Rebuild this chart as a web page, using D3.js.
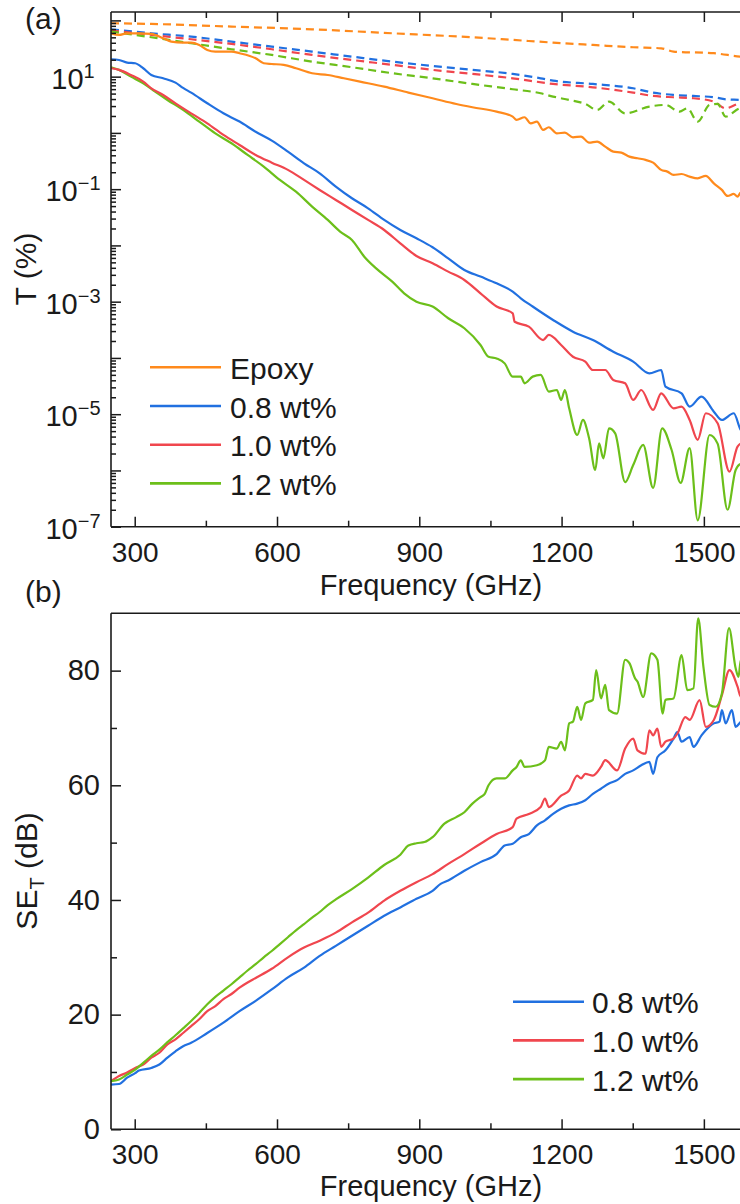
<!DOCTYPE html>
<html>
<head>
<meta charset="utf-8">
<style>
  body { margin: 0; background: #fff; }
  svg text { font-family: "Liberation Sans", Arial, sans-serif; fill: #1a1a1a; }
</style>
</head>
<body>
<div id="chart"></div>
<script src="https://cdn.jsdelivr.net/npm/d3@7"></script>
<script>
// ---- data: [frequency GHz, value] ----
// panel (a): transmission T (%) solid lines
var tEpoxy = [[250,59],[267,55.2],[284,59],[309,59],[335,57.4],[360,48.1],[377,42],[402,40.3],[419,40.3],[436,36.6],[453,29.8],[470,27.9],[504,27.9],[521,26.1],[555,21.2],[572,17.3],[589,16.8],[614,16.2],[640,14.1],[674,11.5],[707,10.7],[741,9.35],[775,8.16],[826,6.65],[877,5.2],[928,4.13],[978,3.27],[1012,2.86],[1063,2.39],[1097,1.95],[1105,1.7],[1122,1.9],[1135,1.48],[1148,1.59],[1161,1.13],[1173,1.26],[1190,0.98],[1207,1.01],[1224,0.836],[1241,0.859],[1258,0.671],[1275,0.7],[1292,0.57],[1309,0.465],[1326,0.446],[1343,0.379],[1360,0.354],[1377,0.331],[1393,0.296],[1410,0.22],[1423,0.205],[1436,0.179],[1453,0.186],[1470,0.167],[1487,0.156],[1504,0.172],[1521,0.127],[1538,0.097],[1550,0.0757],[1563,0.0822],[1571,0.0737],[1578,0.0868],[1600,0.08]];
var t08 = [[250,20.4],[267,19.8],[284,17.8],[301,17.3],[318,14.1],[335,10.7],[360,9.35],[386,7.83],[402,6.3],[419,5.2],[453,3.36],[487,2.23],[521,1.59],[555,1.05],[589,0.73],[623,0.465],[657,0.288],[690,0.191],[724,0.111],[758,0.0689],[792,0.0457],[826,0.0284],[860,0.0188],[894,0.0134],[928,0.00927],[961,0.0059],[995,0.00366],[1029,0.00279],[1063,0.00212],[1097,0.00151],[1114,0.00115],[1139,8.2e-4],[1182,4.73e-4],[1224,2.93e-4],[1266,2.08e-4],[1309,1.29e-4],[1351,8.6e-5],[1385,5.33e-5],[1410,6.1e-5],[1419,3.09e-5],[1453,2.35e-5],[1470,1.36e-5],[1495,2.05e-5],[1521,1.11e-5],[1538,7.9e-6],[1563,1.04e-5],[1578,5.2e-6],[1600,4e-6]];
var t10 = [[250,14.1],[267,13.2],[292,10.7],[318,8.16],[335,6.21],[360,4.73],[386,3.36],[419,2.23],[453,1.48],[487,0.92],[521,0.61],[555,0.406],[589,0.296],[623,0.22],[657,0.146],[690,0.0968],[724,0.0643],[758,0.0427],[792,0.0284],[826,0.0188],[860,0.0109],[894,0.0065],[928,0.00481],[961,0.00342],[995,0.00243],[1029,0.00141],[1063,8.2e-4],[1097,6.2e-4],[1101,4.4e-4],[1131,3.6e-4],[1161,2.08e-4],[1173,2.56e-4],[1199,1.7e-4],[1224,1.05e-4],[1250,8.6e-5],[1266,6.1e-5],[1292,6.1e-5],[1309,4.06e-5],[1334,3.54e-5],[1351,1.79e-5],[1368,2.69e-5],[1393,1.19e-5],[1410,2.35e-5],[1436,1.27e-5],[1453,1.36e-5],[1470,7.9e-6],[1487,3.5e-6],[1504,1.04e-5],[1529,6.9e-6],[1554,9.5e-7],[1571,2.65e-6],[1578,3e-6],[1600,2.5e-6]];
var t12 = [[250,14.7],[267,13.2],[292,10],[318,7.62],[343,5.42],[369,3.85],[402,2.56],[436,1.59],[470,0.98],[504,0.654],[538,0.406],[572,0.252],[606,0.146],[640,0.0904],[674,0.049],[707,0.0284],[733,0.0176],[758,0.0125],[784,0.0063],[809,0.0039],[843,0.00227],[868,0.00141],[894,1e-3],[928,8.2e-4],[961,5.07e-4],[995,3.37e-4],[1029,1.7e-4],[1046,1.05e-4],[1063,9.8e-5],[1080,8e-5],[1097,4.65e-5],[1114,4.65e-5],[1122,3.54e-5],[1139,4.65e-5],[1156,4.98e-5],[1173,2.52e-5],[1190,2.69e-5],[1199,1.79e-5],[1207,2.69e-5],[1216,1.27e-5],[1233,4.27e-6],[1245,7.9e-6],[1258,3.72e-6],[1271,1.02e-6],[1279,3.03e-6],[1288,1.64e-6],[1300,5.6e-6],[1313,4.57e-6],[1334,6.2e-7],[1351,1.25e-6],[1372,2.84e-6],[1393,4.9e-7],[1412,5.6e-6],[1432,2.31e-6],[1451,6e-7],[1470,2.5e-6],[1487,1.3e-7],[1512,4.27e-6],[1529,3e-6],[1550,2e-7],[1567,1.02e-6],[1578,1.3e-6],[1600,1.2e-6]];
// panel (a): dashed lines
var dEpoxy = [[250,88.9],[335,86.5],[504,77.6],[674,69.5],[843,59],[1012,50.1],[1097,45],[1182,40.3],[1266,36.6],[1351,33.3],[1410,31.9],[1436,27.9],[1521,26.1],[1578,22.7],[1600,22]];
var d08 = [[250,69.5],[335,59],[419,51.5],[504,42],[589,34.2],[674,27.9],[758,22.7],[843,18.5],[928,15.5],[1012,13.2],[1097,11.2],[1156,9.35],[1182,8.5],[1266,7.42],[1351,6.21],[1393,5.2],[1436,4.73],[1478,4.54],[1521,4.3],[1546,3.96],[1578,3.85],[1600,3.7]];
var d10 = [[250,65.9],[335,55.2],[419,46.2],[504,38.2],[589,30.7],[674,24.3],[758,19.8],[843,16.2],[928,13.2],[1012,11.2],[1097,9.35],[1182,7.42],[1266,6.47],[1351,5.2],[1393,4.54],[1436,4.3],[1478,4.13],[1521,3.6],[1546,2.74],[1578,3.36],[1600,3.2]];
var d12 = [[250,63.2],[335,50.1],[419,39.2],[504,30.7],[589,24.3],[674,18.5],[758,14.7],[843,11.5],[928,9.35],[1012,7.42],[1097,5.97],[1156,5.06],[1182,4.42],[1216,3.85],[1250,3.27],[1275,2.56],[1300,3.6],[1334,2.23],[1385,2.94],[1419,3.14],[1449,2.39],[1465,2.74],[1487,1.59],[1512,3.14],[1529,3.27],[1546,1.95],[1578,2.74],[1600,2.6]];
// panel (b): SE_T (dB)
var se08 = [[250,7.8],[267,7.9],[284,9],[301,9.8],[309,10.25],[335,10.7],[352,11.3],[369,12.5],[386,13.6],[402,14.5],[419,15.1],[453,16.8],[487,18.6],[521,20.6],[555,22.4],[589,24.4],[623,26.5],[657,28.2],[690,30.25],[724,32],[758,33.75],[792,35.5],[826,37.25],[860,38.7],[894,40.2],[928,41.6],[945,42.8],[961,43.4],[995,45.1],[1029,46.6],[1063,48],[1080,49.5],[1097,49.8],[1114,50.95],[1131,51.5],[1148,53],[1165,53.9],[1182,55],[1199,55.9],[1216,56.5],[1233,56.8],[1250,57.4],[1266,58.5],[1283,59.4],[1300,60.3],[1317,60.9],[1334,62],[1351,62.6],[1368,63.5],[1385,64.1],[1393,62],[1402,64.9],[1419,66.1],[1436,68.15],[1444,69.3],[1453,67.6],[1470,68.4],[1478,66.7],[1495,68.7],[1504,69.6],[1521,70.8],[1533,71.1],[1538,73.1],[1546,70.8],[1559,73.1],[1567,70.2],[1578,71.1],[1600,72]];
var se10 = [[250,8.4],[267,9.3],[284,9.9],[301,10.7],[318,11.3],[335,12.5],[352,13.35],[369,14.8],[386,15.7],[402,16.8],[419,18],[436,19.2],[453,20.6],[470,21.5],[487,22.7],[504,23.6],[521,24.7],[538,25.6],[555,26.4],[589,28],[623,30],[657,31.7],[690,32.9],[724,34.3],[758,36.1],[792,37.8],[826,39.9],[860,41.6],[894,43.1],[928,44.5],[961,46.3],[995,48],[1029,49.8],[1063,51.5],[1097,52.7],[1105,54.2],[1131,55],[1156,56.2],[1165,57.7],[1173,56.2],[1199,58.2],[1216,59.1],[1233,61.7],[1241,61.2],[1250,62],[1266,61.7],[1283,63.2],[1292,64.4],[1317,62.6],[1334,66.4],[1351,68.15],[1360,66.1],[1377,65.5],[1385,69.6],[1393,68.7],[1402,69.9],[1410,66.7],[1419,67.6],[1436,68.15],[1444,69],[1461,71.9],[1470,71.4],[1491,74.85],[1504,70.2],[1521,71.4],[1538,75.7],[1554,80.1],[1571,77.2],[1578,75.4],[1600,76]];
var se12 = [[250,8.4],[267,8.7],[284,9.55],[301,10.4],[318,11.6],[335,12.8],[352,13.9],[369,15.2],[386,16.4],[402,17.6],[419,18.9],[436,20.3],[453,21.8],[470,23.1],[487,24.2],[504,25.3],[521,26.5],[538,27.7],[555,28.8],[572,30],[589,31.1],[606,32.3],[623,33.5],[640,34.7],[657,35.8],[674,36.9],[690,37.9],[707,39.1],[724,40.1],[758,41.9],[792,43.9],[826,46.1],[860,47.9],[877,49.5],[894,49.9],[911,50.1],[928,50.95],[953,53.3],[978,54.45],[995,55.3],[1012,56.8],[1029,57.95],[1038,58.5],[1046,60],[1063,61.2],[1080,61.2],[1097,62.6],[1105,63.2],[1114,64.35],[1122,63.2],[1148,63.5],[1165,64.35],[1173,66.7],[1190,66.4],[1199,67.6],[1207,66.1],[1216,70.8],[1224,71.1],[1233,73.7],[1241,71.4],[1250,74.3],[1266,74.9],[1273,80.1],[1283,75.15],[1292,77.5],[1300,73.1],[1317,72.5],[1334,81.9],[1343,81.3],[1355,78.65],[1360,78.1],[1372,75.4],[1389,83],[1402,81.9],[1413,72.5],[1419,74.9],[1436,75.15],[1453,82.7],[1465,76.6],[1478,76.9],[1488,89.1],[1499,80.7],[1512,74],[1525,73.7],[1538,76],[1553,87.4],[1567,80.4],[1573,78.9],[1578,81.9],[1600,80]];

var legendA = ["Epoxy", "0.8 wt%", "1.0 wt%", "1.2 wt%"];
var legendB = ["0.8 wt%", "1.0 wt%", "1.2 wt%"];
var xMajor = [300, 600, 900, 1200, 1500];
var xMinor = [450, 750, 1050, 1350];
var tLabelExp = [1, -1, -3, -5, -7];
var seMajor = [0, 20, 40, 60, 80];
var seMinor = [10, 30, 50, 70];

var ORANGE = "#ff8a1c", BLUE = "#2170e0", RED = "#f0464e", GREEN = "#6cbf1a";
var INK = "#1a1a1a";

var svg = d3.select("#chart").append("svg").attr("width", 740).attr("height", 1204);
svg.append("rect").attr("width", 740).attr("height", 1204).attr("fill", "#fff");

var x = d3.scaleLinear().domain([250, 1600]).range([111, 751.3]);
var yT = d3.scaleLog().domain([1e-7, 141]).range([526.7, 12]);
var ySE = d3.scaleLinear().domain([0, 90]).range([1129.3, 613.3]);

var defs = svg.append("defs");
defs.append("clipPath").attr("id", "clipA").append("rect")
     .attr("x", 111).attr("y", 12).attr("width", 640).attr("height", 514.7);
defs.append("clipPath").attr("id", "clipB").append("rect")
     .attr("x", 111).attr("y", 613.3).attr("width", 640).attr("height", 516);

var lineT = d3.line().x(function (d) { return x(d[0]); }).y(function (d) { return yT(d[1]); }).curve(d3.curveMonotoneX);
var lineSE = d3.line().x(function (d) { return x(d[0]); }).y(function (d) { return ySE(d[1]); }).curve(d3.curveMonotoneX);

// ---- panel (a) curves ----
var gA = svg.append("g").attr("clip-path", "url(#clipA)");
[[dEpoxy, ORANGE], [d08, BLUE], [d10, RED], [d12, GREEN]].forEach(function (s) {
     gA.append("path").attr("d", lineT(s[0])).attr("fill", "none")
          .attr("stroke", s[1]).attr("stroke-width", 2.2).attr("stroke-dasharray", "8,5");
});
[[t12, GREEN], [t10, RED], [t08, BLUE], [tEpoxy, ORANGE]].forEach(function (s) {
     gA.append("path").attr("d", lineT(s[0])).attr("fill", "none")
          .attr("stroke", s[1]).attr("stroke-width", 2.2).attr("stroke-linejoin", "round");
});

// ---- panel (b) curves ----
var gB = svg.append("g").attr("clip-path", "url(#clipB)");
[[se08, BLUE], [se10, RED], [se12, GREEN]].forEach(function (s) {
     gB.append("path").attr("d", lineSE(s[0])).attr("fill", "none")
          .attr("stroke", s[1]).attr("stroke-width", 2.2).attr("stroke-linejoin", "round");
});

// ---- axes ----
function styleAxis(g) {
     g.select(".domain").remove();
     g.selectAll(".tick line").attr("stroke", INK).attr("stroke-width", 1.5);
     g.selectAll(".tick text").attr("font-size", 28).attr("fill", INK)
          .attr("font-family", "Liberation Sans, Arial, sans-serif");
}

function xAxes(yPos, withTop, yTop) {
     svg.append("g").attr("transform", "translate(0," + yPos + ")")
          .call(d3.axisBottom(x).tickValues(xMajor).tickSizeInner(-10).tickSizeOuter(0)
               .tickPadding(15).tickFormat(d3.format("d")))
          .call(styleAxis);
     svg.append("g").attr("transform", "translate(0," + yPos + ")")
          .call(d3.axisBottom(x).tickValues(xMinor).tickSize(-6).tickFormat(""))
          .call(styleAxis);
     if (withTop) {
          svg.append("g").attr("transform", "translate(0," + yTop + ")")
               .call(d3.axisTop(x).tickValues(xMajor).tickSize(-10).tickFormat(""))
               .call(styleAxis);
          svg.append("g").attr("transform", "translate(0," + yTop + ")")
               .call(d3.axisTop(x).tickValues(xMinor).tickSize(-6).tickFormat(""))
               .call(styleAxis);
     }
}
xAxes(526.7, true, 12);
xAxes(1129.3, false, 613.3);

// log axis of panel (a)
var decades = d3.range(-7, 3).map(function (k) { return Math.pow(10, k); });
var minorLog = [];
d3.range(-7, 3).forEach(function (k) {
     for (var m = 2; m <= 9; m++) {
          var v = m * Math.pow(10, k);
          if (v < yT.domain()[1]) minorLog.push(v);
     }
});
svg.append("g").attr("transform", "translate(111,0)")
     .call(d3.axisLeft(yT).tickValues(decades).tickSize(-10).tickFormat(""))
     .call(styleAxis);
svg.append("g").attr("transform", "translate(111,0)")
     .call(d3.axisLeft(yT).tickValues(minorLog).tickSize(-5).tickFormat(""))
     .call(styleAxis);

var expLabels = svg.append("g").selectAll("text").data(tLabelExp).enter().append("text")
     .attr("x", 73).attr("y", function (d) { return yT(Math.pow(10, d)) + 12; })
     .attr("text-anchor", "middle").attr("font-size", 29);
expLabels.append("tspan").text("10");
expLabels.append("tspan").attr("font-size", 20).attr("dy", -11)
     .text(function (d) { return d < 0 ? "\u2212" + (-d) : String(d); });

// linear axis of panel (b)
svg.append("g").attr("transform", "translate(111,0)")
     .call(d3.axisLeft(ySE).tickValues(seMajor).tickSizeInner(-10).tickSizeOuter(0).tickPadding(11).tickFormat(d3.format("d")))
     .call(styleAxis)
     .call(function (g) { g.selectAll(".tick text").attr("font-size", 29); });
svg.append("g").attr("transform", "translate(111,0)")
     .call(d3.axisLeft(ySE).tickValues(seMinor).tickSize(-6).tickFormat(""))
     .call(styleAxis);

// frames
function frame(top, bottom) {
     var f = svg.append("g").attr("stroke", INK).attr("stroke-width", 1.6).attr("fill", "none");
     f.append("line").attr("x1", 111).attr("x2", 111).attr("y1", top).attr("y2", bottom);
     f.append("line").attr("x1", 111).attr("x2", 752).attr("y1", top).attr("y2", top);
     f.append("line").attr("x1", 111).attr("x2", 752).attr("y1", bottom).attr("y2", bottom);
}
frame(12, 526.7);
frame(613.3, 1129.3);

// ---- titles ----
svg.append("text").attr("x", 25).attr("y", 29).attr("font-size", 30).text("(a)");
svg.append("text").attr("x", 25).attr("y", 602).attr("font-size", 30).text("(b)");

svg.append("text").attr("x", 431).attr("y", 595).attr("text-anchor", "middle")
     .attr("font-size", 29).text("Frequency (GHz)");
svg.append("text").attr("x", 431).attr("y", 1196).attr("text-anchor", "middle")
     .attr("font-size", 29).text("Frequency (GHz)");

svg.append("text").attr("transform", "translate(36,269) rotate(-90)")
     .attr("text-anchor", "middle").attr("font-size", 30).text("T (%)");
var seLab = svg.append("text").attr("transform", "translate(37,871) rotate(-90)")
     .attr("text-anchor", "middle").attr("font-size", 30);
seLab.append("tspan").text("SE");
seLab.append("tspan").attr("font-size", 20).attr("dy", 7).text("T");
seLab.append("tspan").attr("dy", -7).text(" (dB)");

// ---- legends ----
function legend(items, colors, x0, x1, xText, y0) {
     var g = svg.append("g");
     items.forEach(function (name, i) {
          var yy = y0 + i * 38.7;
          g.append("line").attr("x1", x0).attr("x2", x1).attr("y1", yy).attr("y2", yy)
               .attr("stroke", colors[i]).attr("stroke-width", 2.6);
          g.append("text").attr("x", xText).attr("y", yy + 11.5).attr("font-size", 30).text(name);
     });
}
legend(legendA, [ORANGE, BLUE, RED, GREEN], 150, 221, 230, 367.3);
legend(legendB, [BLUE, RED, GREEN], 513, 584, 592, 1001.7);
</script>
</body>
</html>
